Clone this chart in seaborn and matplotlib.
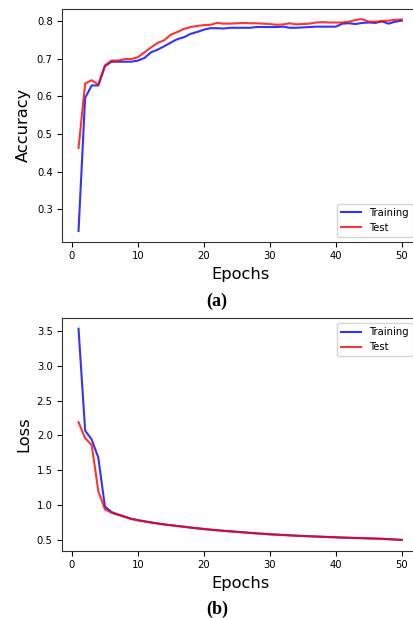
import numpy as np
import pandas as pd
import matplotlib
matplotlib.use("Agg")
import matplotlib.pyplot as plt
import seaborn as sns

epochs = list(range(1, 51))

train_acc = [0.243, 0.596, 0.629, 0.629, 0.680, 0.692, 0.692, 0.692, 0.692, 0.695,
             0.702, 0.717, 0.724, 0.733, 0.743, 0.752, 0.757, 0.766, 0.771, 0.777,
             0.781, 0.781, 0.780, 0.782, 0.782, 0.782, 0.782, 0.784, 0.784, 0.784,
             0.784, 0.785, 0.782, 0.782, 0.783, 0.784, 0.785, 0.785, 0.785, 0.785,
             0.793, 0.794, 0.792, 0.795, 0.796, 0.795, 0.799, 0.793, 0.798, 0.801]
test_acc = [0.463, 0.634, 0.643, 0.631, 0.682, 0.695, 0.695, 0.699, 0.699, 0.704,
            0.717, 0.730, 0.742, 0.749, 0.764, 0.771, 0.779, 0.784, 0.787, 0.789,
            0.790, 0.795, 0.793, 0.793, 0.794, 0.795, 0.794, 0.794, 0.793, 0.792,
            0.790, 0.791, 0.794, 0.791, 0.792, 0.793, 0.796, 0.797, 0.796, 0.796,
            0.796, 0.798, 0.803, 0.805, 0.798, 0.798, 0.800, 0.801, 0.803, 0.804]

train_loss = [3.53, 2.07, 1.94, 1.68, 0.98, 0.90, 0.865, 0.835, 0.805, 0.785,
              0.768, 0.752, 0.738, 0.724, 0.712, 0.701, 0.690, 0.678, 0.668, 0.658,
              0.648, 0.640, 0.632, 0.624, 0.617, 0.610, 0.602, 0.595, 0.589, 0.582,
              0.577, 0.572, 0.567, 0.562, 0.558, 0.554, 0.550, 0.546, 0.542, 0.539,
              0.535, 0.532, 0.529, 0.526, 0.523, 0.520, 0.517, 0.512, 0.506, 0.501]
test_loss = [2.19, 1.96, 1.86, 1.20, 0.94, 0.89, 0.860, 0.830, 0.800, 0.780,
             0.764, 0.749, 0.735, 0.721, 0.710, 0.699, 0.688, 0.676, 0.666, 0.656,
             0.646, 0.638, 0.630, 0.622, 0.615, 0.608, 0.600, 0.593, 0.587, 0.580,
             0.575, 0.570, 0.565, 0.560, 0.556, 0.552, 0.548, 0.544, 0.540, 0.537,
             0.533, 0.530, 0.527, 0.524, 0.521, 0.518, 0.515, 0.511, 0.505, 0.500]

acc_df = pd.DataFrame({"Epochs": epochs, "Training": train_acc, "Test": test_acc})
loss_df = pd.DataFrame({"Epochs": epochs, "Training": train_loss, "Test": test_loss})

plt.rcParams["font.family"] = ["DejaVu Sans"]

fig = plt.figure(figsize=(4.13, 6.18), dpi=100)
ax1 = fig.add_axes([0.151, 0.6092, 0.861, 0.377])
ax2 = fig.add_axes([0.151, 0.1092, 0.861, 0.376])

tick_fs = 7.2
label_fs = 11.7

def draw(ax, df, ylabel, legend_loc):
    sns.lineplot(data=df, x="Epochs", y="Training", ax=ax, color="blue", alpha=0.8,
                 linewidth=1.5, label="Training")
    sns.lineplot(data=df, x="Epochs", y="Test", ax=ax, color="red", alpha=0.8,
                 linewidth=1.5, label="Test")
    ax.set_xlabel("Epochs", fontsize=label_fs)
    ax.set_ylabel(ylabel, fontsize=label_fs)
    ax.set_xticks([0, 10, 20, 30, 40, 50])
    ax.tick_params(labelsize=tick_fs)
    ax.legend(loc=legend_loc, fontsize=tick_fs)
    for s in ax.spines.values():
        s.set_color("#333333")

draw(ax1, acc_df, "Accuracy", "lower right")
draw(ax2, loss_df, "Loss", "upper right")
ax1.set_yticks([0.3, 0.4, 0.5, 0.6, 0.7, 0.8])
ax2.set_yticks([0.5, 1.0, 1.5, 2.0, 2.5, 3.0, 3.5])

fig.text(217 / 413, 1 - 301 / 618, "(a)", ha="center", va="center",
         fontsize=13, fontweight="bold", family="Liberation Serif")
fig.text(217 / 413, 1 - 609 / 618, "(b)", ha="center", va="center",
         fontsize=13, fontweight="bold", family="Liberation Serif")

fig.savefig("out.png", dpi=100)
